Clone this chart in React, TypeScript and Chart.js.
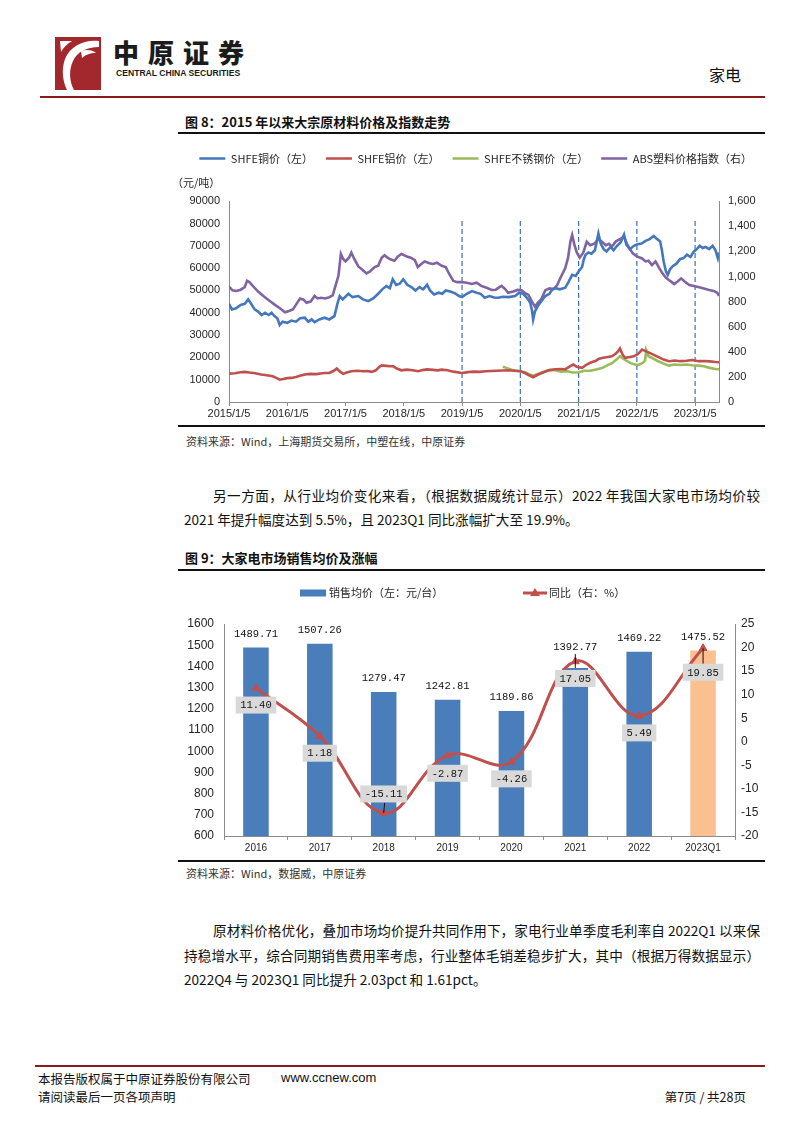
import React, { useEffect, useRef } from 'react';
import { Chart, registerables } from 'chart.js';

Chart.register(...registerables);

// ================= Figure 8 data (x = years after 2015/1/5) =================
const yearLabels = ['2015/1/5', '2016/1/5', '2017/1/5', '2018/1/5', '2019/1/5', '2020/1/5', '2021/1/5', '2022/1/5', '2023/1/5'];
const markerYears = [4, 5, 6, 7, 8];

const copperPrice: [number, number][] = [
  [0, 44000], [0.05, 41500], [0.12, 42000], [0.2, 43500], [0.27, 44000], [0.33, 46000], [0.38, 44000], [0.44, 41500],
  [0.5, 40500], [0.56, 39000], [0.62, 40000], [0.68, 39000], [0.73, 40000], [0.78, 38500], [0.83, 37500], [0.87, 34500],
  [0.92, 36000], [1.0, 35500], [1.07, 36500], [1.15, 36000], [1.22, 37500], [1.3, 37800], [1.36, 36000], [1.42, 37000],
  [1.47, 35800], [1.55, 37000], [1.64, 37800], [1.72, 37000], [1.81, 38500], [1.86, 44000], [1.9, 47500], [1.95, 46000],
  [2.05, 48500], [2.12, 47000], [2.22, 47500], [2.3, 46000], [2.39, 45200], [2.48, 46500], [2.56, 48500], [2.63, 50500],
  [2.7, 52000], [2.76, 51000], [2.81, 55000], [2.87, 52500], [2.93, 53000], [2.99, 55000], [3.06, 52500], [3.13, 51500],
  [3.2, 50000], [3.27, 51500], [3.33, 50500], [3.4, 52500], [3.45, 50000], [3.52, 48200], [3.6, 49000], [3.66, 48500],
  [3.72, 50000], [3.8, 49500], [3.88, 48700], [3.95, 47500], [4.0, 47000], [4.08, 48500], [4.17, 49700], [4.25, 49000],
  [4.32, 48500], [4.39, 46700], [4.47, 47500], [4.55, 46800], [4.62, 46700], [4.7, 47200], [4.8, 47000], [4.91, 47500],
  [4.98, 49000], [5.05, 48500], [5.12, 46500], [5.17, 44500], [5.2, 41000], [5.22, 37000], [5.25, 40500], [5.3, 43000],
  [5.37, 45500], [5.43, 47500], [5.5, 48500], [5.55, 50500], [5.6, 51000], [5.68, 50500], [5.77, 51200], [5.83, 54000],
  [5.89, 57000], [5.95, 56500], [6.0, 58500], [6.06, 60500], [6.09, 64000], [6.12, 66000], [6.17, 67000], [6.22, 66500],
  [6.28, 68000], [6.34, 75500], [6.38, 71000], [6.43, 68500], [6.48, 67500], [6.55, 69500], [6.6, 68000], [6.66, 70000],
  [6.72, 71500], [6.78, 75000], [6.82, 70500], [6.88, 68500], [6.95, 70000], [7.01, 70700], [7.08, 71000], [7.15, 72200],
  [7.22, 73000], [7.29, 74400], [7.35, 73000], [7.4, 72000], [7.43, 68000], [7.46, 63000], [7.5, 58500], [7.53, 57000],
  [7.57, 59500], [7.62, 61000], [7.68, 62000], [7.74, 64000], [7.8, 64500], [7.86, 66000], [7.92, 65000], [7.98, 67500],
  [8.03, 68500], [8.08, 70000], [8.13, 69000], [8.18, 69500], [8.24, 68500], [8.3, 70000], [8.35, 68000], [8.39, 64500],
  [8.41, 67000],
];

const aluminumPrice: [number, number][] = [
  [0, 12700], [0.1, 12900], [0.2, 13300], [0.27, 13500], [0.35, 13200], [0.45, 12900], [0.55, 12300], [0.65, 12000],
  [0.75, 11500], [0.82, 10700], [0.87, 10000], [0.93, 10300], [1.0, 10700], [1.07, 10800], [1.15, 11200], [1.22, 11800],
  [1.3, 12300], [1.4, 12600], [1.5, 12500], [1.57, 12800], [1.64, 13000], [1.72, 13000], [1.8, 14000], [1.85, 15000],
  [1.9, 13700], [1.96, 12600], [2.02, 13200], [2.1, 13800], [2.2, 14000], [2.3, 13800], [2.38, 13900], [2.45, 13500],
  [2.52, 14200], [2.58, 15800], [2.62, 16400], [2.7, 16200], [2.77, 16000], [2.82, 16000], [2.88, 15000], [2.96, 14200],
  [3.05, 14500], [3.15, 14200], [3.25, 13800], [3.32, 14300], [3.4, 14600], [3.5, 14400], [3.58, 14200], [3.65, 14500],
  [3.75, 14200], [3.85, 13600], [4.0, 13000], [4.1, 13400], [4.2, 13600], [4.3, 13500], [4.4, 13800], [4.5, 13900],
  [4.6, 14000], [4.7, 14100], [4.8, 14200], [4.9, 14000], [5.0, 13800], [5.08, 13000], [5.15, 12000], [5.22, 11100],
  [5.3, 12200], [5.4, 13300], [5.5, 14300], [5.6, 14700], [5.7, 14800], [5.77, 14600], [5.85, 16000], [5.91, 16800],
  [5.97, 15800], [6.06, 15300], [6.14, 16800], [6.22, 17800], [6.3, 18500], [6.34, 19300], [6.42, 19800], [6.5, 20200],
  [6.57, 20500], [6.63, 21500], [6.68, 22800], [6.71, 24000], [6.76, 21000], [6.8, 19800], [6.88, 20200], [6.95, 20500],
  [7.02, 21500], [7.09, 23500], [7.15, 22800], [7.22, 22000], [7.3, 21000], [7.38, 20000], [7.46, 19000], [7.55, 18300],
  [7.65, 18600], [7.75, 18300], [7.85, 18500], [7.95, 18800], [8.06, 18300], [8.15, 18400], [8.25, 18200], [8.35, 17900],
  [8.41, 17800],
];

const stainlessPrice: [number, number][] = [
  [4.7, 15800], [4.76, 15300], [4.85, 14500], [4.93, 14000], [5.0, 13800], [5.08, 13300], [5.15, 12500], [5.22, 11800],
  [5.3, 12600], [5.4, 13600], [5.5, 14300], [5.6, 14200], [5.7, 13600], [5.8, 13800], [5.9, 13200], [6.0, 13300],
  [6.1, 14000], [6.2, 14000], [6.3, 14600], [6.4, 15200], [6.5, 16500], [6.58, 17500], [6.65, 19000], [6.71, 20500],
  [6.76, 19500], [6.82, 18500], [6.9, 17300], [6.97, 16800], [7.03, 16600], [7.1, 17500], [7.14, 18500], [7.16, 23200],
  [7.2, 20500], [7.28, 19500], [7.35, 18500], [7.45, 17300], [7.55, 16300], [7.65, 16800], [7.75, 16600], [7.85, 16800],
  [7.95, 16500], [8.06, 16300], [8.15, 16000], [8.25, 15300], [8.35, 14800], [8.41, 14700],
];

const absIndex: [number, number][] = [
  [0, 920], [0.06, 890], [0.12, 885], [0.2, 895], [0.27, 915], [0.31, 965], [0.35, 955], [0.42, 920], [0.5, 880],
  [0.6, 840], [0.7, 805], [0.8, 770], [0.88, 745], [0.96, 715], [1.03, 725], [1.1, 740], [1.17, 790], [1.22, 825],
  [1.28, 815], [1.33, 790], [1.4, 800], [1.47, 845], [1.52, 825], [1.58, 830], [1.65, 825], [1.72, 835], [1.78, 850],
  [1.83, 930], [1.88, 1010], [1.92, 1180], [1.96, 1140], [2.0, 1120], [2.06, 1150], [2.1, 1190], [2.15, 1140],
  [2.22, 1080], [2.3, 1050], [2.36, 1025], [2.42, 1040], [2.5, 1075], [2.56, 1085], [2.62, 1150], [2.67, 1170],
  [2.72, 1150], [2.78, 1135], [2.84, 1125], [2.9, 1160], [2.96, 1180], [3.05, 1160], [3.12, 1150], [3.19, 1130],
  [3.24, 1075], [3.3, 1100], [3.36, 1120], [3.44, 1105], [3.5, 1100], [3.57, 1110], [3.65, 1085], [3.72, 1075],
  [3.78, 1020], [3.85, 965], [3.92, 955], [4.0, 955], [4.08, 950], [4.17, 940], [4.25, 950], [4.33, 925], [4.42, 910],
  [4.51, 893], [4.58, 895], [4.64, 915], [4.68, 925], [4.74, 900], [4.79, 870], [4.88, 880], [4.95, 893], [5.02, 890],
  [5.09, 865], [5.14, 853], [5.2, 800], [5.25, 760], [5.3, 790], [5.36, 820], [5.43, 890], [5.5, 905], [5.57, 900],
  [5.63, 930], [5.7, 1000], [5.77, 1065], [5.82, 1150], [5.86, 1280], [5.89, 1330], [5.93, 1250], [5.97, 1190],
  [6.02, 1150], [6.08, 1190], [6.14, 1277], [6.2, 1250], [6.28, 1264], [6.34, 1300], [6.4, 1277], [6.47, 1250],
  [6.52, 1260], [6.57, 1237], [6.64, 1280], [6.72, 1300], [6.78, 1317], [6.83, 1260], [6.88, 1220], [6.93, 1184],
  [7.0, 1160], [7.09, 1144], [7.15, 1120], [7.2, 1125], [7.26, 1091], [7.32, 1120], [7.38, 1070], [7.44, 1025],
  [7.5, 990], [7.55, 972], [7.6, 955], [7.64, 940], [7.7, 960], [7.76, 985], [7.82, 960], [7.9, 932], [7.98, 925],
  [8.07, 914], [8.15, 905], [8.24, 893], [8.32, 885], [8.38, 870], [8.41, 845],
];

// ================= Figure 9 data =================
const categories = ['2016', '2017', '2018', '2019', '2020', '2021', '2022', '2023Q1'];
const avgPrice = [1489.71, 1507.26, 1279.47, 1242.81, 1189.86, 1392.77, 1469.22, 1475.52];
const yoyChange = [11.4, 1.18, -15.11, -2.87, -4.26, 17.05, 5.49, 19.85];

// ================= styles =================
const CJK = '"Noto Sans CJK SC", "Noto Sans", sans-serif';
const SANS = '"Liberation Sans", Arial, sans-serif';
const MONO = '"Liberation Mono", monospace';
const AXIS = '#8c8c8c';
const TXT = '#262626';

const C_BLUE = '#4477bb';
const C_RED = '#c0504d';
const C_GREEN = '#9bbb59';
const C_PURPLE = '#8064a2';
const C_DASH = '#3a6fb5';

const BAR_BLUE = '#4a7ebb';
const BAR_ORANGE = '#fac090';
const LINE_RED = '#c0504d';

const plainNum = (v: any) => String(v);

function lineSet(label: string, pts: [number, number][], color: string, axis: string) {
  return {
    label,
    data: pts.map(([x, y]) => ({ x, y })),
    borderColor: color,
    backgroundColor: color,
    borderWidth: 2.6,
    pointRadius: 0,
    tension: 0,
    yAxisID: axis,
  };
}

function makeFig8(): any {
  const dashSets = markerYears.map((t) => ({
    label: '',
    data: [{ x: t, y: 0 }, { x: t, y: 81500 }],
    borderColor: C_DASH,
    backgroundColor: C_DASH,
    borderWidth: 1.2,
    borderDash: [5, 3],
    pointRadius: 0,
    yAxisID: 'y',
  }));
  return {
    type: 'line',
    data: {
      datasets: [
        lineSet('SHFE铜价（左）', copperPrice, C_BLUE, 'y'),
        lineSet('SHFE铝价（左）', aluminumPrice, C_RED, 'y'),
        lineSet('SHFE不锈钢价（左）', stainlessPrice, C_GREEN, 'y'),
        lineSet('ABS塑料价格指数（右）', absIndex, C_PURPLE, 'y1'),
        ...dashSets,
      ],
    },
    options: {
      responsive: false,
      animation: false,
      devicePixelRatio: 1,
      layout: { padding: { top: -8, left: 0, right: 0, bottom: 0 } },
      plugins: {
        legend: {
          display: true,
          position: 'top',
          align: 'end',
          labels: {
            boxWidth: 26,
            boxHeight: 0,
            padding: 13,
            color: TXT,
            font: { size: 11, family: CJK },
            filter: (item: any) => !!item.text,
          },
        },
        title: {
          display: true,
          text: '（元/吨）',
          align: 'start',
          weight: 500,
          color: TXT,
          padding: { top: 2, bottom: 12 },
          font: { size: 11, family: CJK, weight: 'normal' },
        },
        tooltip: { enabled: false },
      },
      scales: {
        x: {
          type: 'linear',
          min: 0,
          max: 8.41,
          afterBuildTicks: (s: any) => {
            s.ticks = yearLabels.map((_, i) => ({ value: i }));
          },
          ticks: {
            callback: (v: any) => yearLabels[v] ?? '',
            autoSkip: false,
            maxRotation: 0,
            padding: 1,
            color: TXT,
            font: { size: 11, family: SANS },
          },
          grid: { drawOnChartArea: false, drawTicks: true, tickLength: 4, color: AXIS },
          border: { color: AXIS },
          afterFit: (s: any) => { s.height = 22; },
        },
        y: {
          position: 'left',
          min: 0,
          max: 90000,
          ticks: { stepSize: 10000, padding: 9, color: TXT, font: { size: 11, family: SANS }, callback: plainNum },
          grid: { drawOnChartArea: false, drawTicks: false },
          border: { color: AXIS },
          afterFit: (s: any) => { s.width = 57; },
        },
        y1: {
          position: 'right',
          min: 0,
          max: 1600,
          ticks: {
            stepSize: 200,
            padding: 9,
            color: TXT,
            font: { size: 11, family: SANS },
            callback: (v: any) => Number(v).toLocaleString('en-US'),
          },
          grid: { drawOnChartArea: false, drawTicks: false },
          border: { color: AXIS },
          afterFit: (s: any) => { s.width = 46; },
        },
      },
    },
  };
}

// label offsets (px) of the YoY boxes relative to their points
const yoyLabelDy = [17, 17, -19, 18, 17, 17, 17, 24];

const fig9Labels = {
  id: 'fig9Labels',
  afterDatasetsDraw(chart: any) {
    const ctx = chart.ctx;
    const bars = chart.getDatasetMeta(0).data;
    const pts = chart.getDatasetMeta(1).data;
    ctx.save();
    ctx.font = `10.5px ${MONO}`;
    ctx.textAlign = 'center';
    ctx.textBaseline = 'middle';
    // bar value labels
    bars.forEach((b: any, i: number) => {
      const lift = i === 5 ? 21 : 13.5;
      ctx.fillStyle = '#111';
      ctx.fillText(avgPrice[i].toFixed(2), b.x, b.y - lift);
      if (i === 5) {
        ctx.strokeStyle = '#111';
        ctx.lineWidth = 1;
        ctx.beginPath();
        ctx.moveTo(b.x, b.y - lift + 7);
        ctx.lineTo(b.x, b.y);
        ctx.stroke();
      }
    });
    // yoy labels
    pts.forEach((p: any, i: number) => {
      const txt = yoyChange[i].toFixed(2);
      const w = ctx.measureText(txt).width + 9;
      const h = 17;
      const cy = p.y + yoyLabelDy[i];
      if (i === 2 || i === 7) {
        ctx.strokeStyle = '#111';
        ctx.lineWidth = 1;
        ctx.beginPath();
        const edge = yoyLabelDy[i] > 0 ? cy - h / 2 : cy + h / 2;
        ctx.moveTo(p.x + (i === 2 ? 1 : 0), edge);
        ctx.lineTo(p.x, p.y);
        ctx.stroke();
      }
      ctx.fillStyle = '#d9d9d9';
      ctx.fillRect(p.x - w / 2, cy - h / 2, w, h);
      ctx.fillStyle = '#111';
      ctx.fillText(txt, p.x, cy + 0.5);
    });
    ctx.restore();
  },
  afterDraw(chart: any) {
    // legend
    const ctx = chart.ctx;
    const ds = chart.data.datasets;
    ctx.save();
    ctx.font = `11px ${CJK}`;
    ctx.textBaseline = 'middle';
    ctx.textAlign = 'left';
    const y = 15;
    ctx.fillStyle = BAR_BLUE;
    ctx.fillRect(130, y - 3.5, 26, 7);
    ctx.fillStyle = TXT;
    ctx.fillText(ds[0].label, 159, y);
    ctx.strokeStyle = LINE_RED;
    ctx.lineWidth = 3;
    ctx.beginPath();
    ctx.moveTo(353, y);
    ctx.lineTo(377, y);
    ctx.stroke();
    ctx.fillStyle = LINE_RED;
    ctx.beginPath();
    ctx.moveTo(365, y - 5);
    ctx.lineTo(370, y + 3);
    ctx.lineTo(360, y + 3);
    ctx.closePath();
    ctx.fill();
    ctx.fillStyle = TXT;
    ctx.fillText(ds[1].label, 379, y);
    ctx.restore();
  },
};

function makeFig9(): any {
  return {
    type: 'bar',
    data: {
      labels: categories,
      datasets: [
        {
          type: 'bar',
          label: '销售均价（左：元/台）',
          data: avgPrice,
          backgroundColor: avgPrice.map((_, i) => (i === avgPrice.length - 1 ? BAR_ORANGE : BAR_BLUE)),
          barPercentage: 0.4,
          categoryPercentage: 1,
          yAxisID: 'y',
          order: 2,
        },
        {
          type: 'line',
          label: '同比（右：%）',
          data: yoyChange,
          borderColor: LINE_RED,
          backgroundColor: LINE_RED,
          borderWidth: 3,
          tension: 0.4,
          pointStyle: 'triangle',
          pointRadius: 4.5,
          pointBorderWidth: 1,
          yAxisID: 'y1',
          order: 1,
        },
      ],
    },
    options: {
      responsive: false,
      animation: false,
      devicePixelRatio: 1,
      layout: { padding: { top: 46, left: 0, right: 0, bottom: 0 } },
      plugins: { legend: { display: false }, tooltip: { enabled: false } },
      scales: {
        x: {
          ticks: { padding: 2, color: TXT, font: { size: 10, family: SANS } },
          grid: { drawOnChartArea: false, drawTicks: true, tickLength: 4, color: AXIS, offset: true },
          border: { color: AXIS },
          afterFit: (s: any) => { s.height = 24; },
        },
        y: {
          position: 'left',
          min: 600,
          max: 1600,
          ticks: { stepSize: 100, padding: 10, color: TXT, font: { size: 12, family: SANS }, callback: plainNum },
          grid: { drawOnChartArea: false, drawTicks: false },
          border: { color: AXIS },
          afterFit: (s: any) => { s.width = 54; },
        },
        y1: {
          position: 'right',
          min: -20,
          max: 25,
          ticks: { stepSize: 5, padding: 6, color: TXT, font: { size: 12, family: SANS }, callback: plainNum },
          grid: { drawOnChartArea: false, drawTicks: false },
          border: { color: AXIS },
          afterFit: (s: any) => { s.width = 30; },
        },
      },
    },
    plugins: [fig9Labels],
  };
}

function ChartCanvas(props: { make: () => any; left: number; top: number; width: number; height: number }) {
  const ref = useRef<HTMLCanvasElement | null>(null);
  useEffect(() => {
    if (!ref.current) return;
    const c = new Chart(ref.current, props.make());
    return () => c.destroy();
  }, []);
  return (
    <canvas
      ref={ref}
      width={props.width}
      height={props.height}
      style={{ position: 'absolute', left: props.left, top: props.top, width: props.width, height: props.height }}
    />
  );
}

function Txt(props: { x: number; cy: number; size: number; children: any; bold?: boolean; family?: string; color?: string; right?: boolean; lh?: number }) {
  const lh = props.lh || Math.round(props.size * 1.5);
  const st: any = {
    position: 'absolute',
    top: props.cy - lh / 2,
    fontSize: props.size,
    lineHeight: `${lh}px`,
    whiteSpace: 'nowrap',
    fontWeight: props.bold ? 700 : 400,
    fontFamily: props.family || CJK,
    color: props.color || '#111',
  };
  if (props.right) st.right = 802 - props.x;
  else st.left = props.x;
  return <div style={st}>{props.children}</div>;
}

function JLine(props: { x: number; right: number; cy: number; text: string; justify: boolean }) {
  const size = 13.6;
  const lh = 20;
  return (
    <div
      style={{
        position: 'absolute',
        left: props.x,
        width: props.right - props.x,
        top: props.cy - lh / 2,
        fontSize: size,
        lineHeight: `${lh}px`,
        fontFamily: CJK,
        color: '#111',
        textAlign: props.justify ? 'justify' : 'left',
        textAlignLast: props.justify ? 'justify' : 'left',
      } as any}
    >
      {props.text}
    </div>
  );
}

function Rule(props: { x: number; y: number; w: number; h: number; color: string }) {
  return <div style={{ position: 'absolute', left: props.x, top: props.y, width: props.w, height: props.h, background: props.color }} />;
}

export default function App() {
  return (
    <div style={{ position: 'absolute', left: 0, top: 0, width: 802, height: 1133, background: '#fff', overflow: 'hidden' }}>
      {/* header */}
      <svg width={46} height={53} style={{ position: 'absolute', left: 55, top: 37 }}>
        <rect x={0} y={0} width={46} height={53} fill="#a3282d" />
        <path d="M44 4 C 30 2, 15 9, 10 22 C 6 33, 8 45, 12 53 L 19 53 C 14 44, 14 32, 18 24 C 22 15, 32 10, 44 10 Z" fill="#fff" />
        <path d="M5 4 L 17 4 C 12 7, 9 10, 6 15 Z" fill="#fff" />
        <path d="M26 14 C 32 12, 38 13, 41 16 C 35 16, 30 18, 27 21 Z" fill="#fff" />
      </svg>
      <Txt x={113} cy={52} size={26} lh={30} family={CJK} color="#1b1b1b">
        <span style={{ letterSpacing: 9, fontWeight: 900 }}>中原证券</span>
      </Txt>
      <Txt x={116} cy={73} size={8.6} lh={11} bold family={SANS} color="#1b1b1b">CENTRAL CHINA SECURITIES</Txt>
      <Txt x={709} cy={74} size={16}>家电</Txt>
      <Rule x={40} y={96} w={725} h={2} color="#8b1a1a" />

      {/* figure 8 */}
      <Txt x={185} cy={122} size={13} bold>图 8：2015 年以来大宗原材料价格及指数走势</Txt>
      <Rule x={178} y={132} w={587} h={2} color="#111" />
      <ChartCanvas make={makeFig8} left={172} top={148} width={593} height={276} />
      <Rule x={178} y={425} w={587} h={2} color="#111" />
      <Txt x={186} cy={441} size={11} color="#333">资料来源：Wind，上海期货交易所，中塑在线，中原证券</Txt>

      <JLine x={213} right={760} cy={495} justify text="另一方面，从行业均价变化来看，（根据数据威统计显示）2022 年我国大家电市场均价较" />
      <JLine x={184} right={760} cy={519} justify={false} text="2021 年提升幅度达到 5.5%，且 2023Q1 同比涨幅扩大至 19.9%。" />

      {/* figure 9 */}
      <Txt x={185} cy={558} size={13} bold>图 9：大家电市场销售均价及涨幅</Txt>
      <Rule x={178} y={569} w={587} h={2} color="#111" />
      <ChartCanvas make={makeFig9} left={170} top={578} width={595} height={282} />
      <Rule x={178} y={860} w={587} h={2} color="#111" />
      <Txt x={186} cy={873} size={11} color="#333">资料来源：Wind，数据威，中原证券</Txt>

      <JLine x={213} right={760} cy={930} justify text="原材料价格优化，叠加市场均价提升共同作用下，家电行业单季度毛利率自 2022Q1 以来保" />
      <JLine x={184} right={760} cy={955} justify text="持稳增水平，综合同期销售费用率考虑，行业整体毛销差稳步扩大，其中（根据万得数据显示）" />
      <JLine x={184} right={760} cy={979} justify={false} text="2022Q4 与 2023Q1 同比提升 2.03pct 和 1.61pct。" />

      {/* footer */}
      <Rule x={35} y={1065} w={730} h={2} color="#8b1a1a" />
      <Txt x={38} cy={1078} size={12.5}>本报告版权属于中原证券股份有限公司</Txt>
      <Txt x={281} cy={1078} size={13} family={SANS}>www.ccnew.com</Txt>
      <Txt x={38} cy={1096} size={12.5}>请阅读最后一页各项声明</Txt>
      <Txt x={746} cy={1096} size={12.5} right>第7页 / 共28页</Txt>
    </div>
  );
}
